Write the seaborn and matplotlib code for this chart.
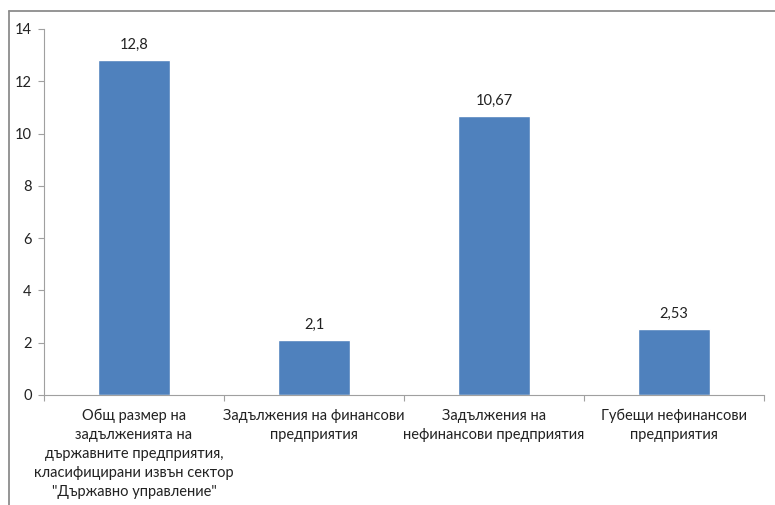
import matplotlib
matplotlib.use("Agg")
import matplotlib.pyplot as plt
from matplotlib.lines import Line2D
import seaborn as sns
import pandas as pd

categories = [
    "Общ размер на\nзадълженията на\nдържавните предприятия,\nкласифицирани извън сектор\n\"Държавно управление\"",
    "Задължения на финансови\nпредприятия",
    "Задължения на\nнефинансови предприятия",
    "Губещи нефинансови\nпредприятия",
]
values = [12.8, 2.1, 10.67, 2.53]
value_labels = ["12,8", "2,1", "10,67", "2,53"]
y_ticks = [0, 2, 4, 6, 8, 10, 12, 14]

sns.set_theme(style="white")
plt.rcParams["font.family"] = ["Lato", "DejaVu Sans"]

df = pd.DataFrame({"cat": categories, "val": values})

W, H = 775, 505
fig = plt.figure(figsize=(7.75, 5.05), dpi=100)
ax = fig.add_axes([44 / W, 1 - 395 / H, 720 / W, 366 / H])

sns.barplot(data=df, x="cat", y="val", color="#4F81BD", width=0.395,
            saturation=1, ax=ax)

ax.set_xlim(-0.5, 3.5)
ax.set_ylim(0, 14)
ax.set_yticks(y_ticks)
ax.set_yticklabels([str(t) for t in y_ticks], fontsize=10.5, color="#222222")
ax.set_xlabel("")
ax.set_ylabel("")
ax.tick_params(axis="x", which="major", length=0, pad=10, labelsize=10.5,
               labelcolor="#222222")
ax.set_xticks([-0.5, 0.5, 1.5, 2.5, 3.5], minor=True)
ax.tick_params(axis="x", which="minor", length=4, color="#A0A0A0", width=0.8,
               direction="out", bottom=True)
ax.tick_params(axis="y", length=4, color="#A0A0A0", width=0.8,
               direction="out", left=True, pad=5)
for lbl in ax.get_xticklabels():
    lbl.set_linespacing(1.45)

for s in ["top", "right"]:
    ax.spines[s].set_visible(False)
for s in ["left", "bottom"]:
    ax.spines[s].set_color("#A0A0A0")
    ax.spines[s].set_linewidth(0.8)

for i, (v, t) in enumerate(zip(values, value_labels)):
    ax.annotate(t, (i, v), xytext=(0, 6), textcoords="offset points",
                ha="center", va="bottom", fontsize=10.5, color="#222222")

# outer frame
fig.add_artist(Line2D([9 / W, 1.0], [1 - 11 / H, 1 - 11 / H],
                      color="#8C8C8C", lw=1.3, transform=fig.transFigure))
fig.add_artist(Line2D([9 / W, 9 / W], [0.0, 1 - 11 / H],
                      color="#8C8C8C", lw=1.3, transform=fig.transFigure))

fig.savefig("out.png", dpi=100, facecolor="white")
